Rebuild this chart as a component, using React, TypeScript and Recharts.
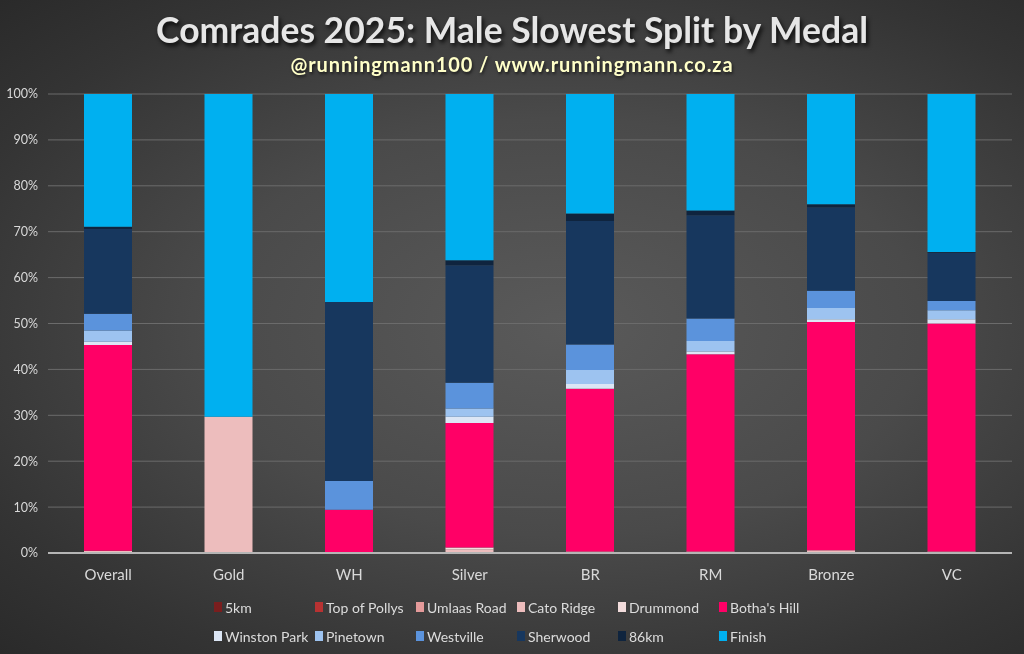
import { BarChart, Bar, XAxis, YAxis, CartesianGrid } from "recharts";

const categories = ["Overall", "Gold", "WH", "Silver", "BR", "RM", "Bronze", "VC"];

const splitNames = [
  "5km",
  "Top of Pollys",
  "Umlaas Road",
  "Cato Ridge",
  "Drummond",
  "Botha's Hill",
  "Winston Park",
  "Pinetown",
  "Westville",
  "Sherwood",
  "86km",
  "Finish",
];

const splitColors = [
  "#7a1e1e",
  "#b83232",
  "#e49a9a",
  "#edbdbd",
  "#f2dcdc",
  "#ff0066",
  "#dce6f5",
  "#9dc3f0",
  "#5b93dc",
  "#17375e",
  "#0f243e",
  "#00b0f0",
];

// share of runners (%) whose slowest split was each segment
const km5 = [0, 0, 0, 0, 0, 0, 0, 0];
const topOfPollys = [0, 0, 0, 0, 0, 0, 0, 0];
const umlaasRoad = [0, 0, 0, 0, 0, 0, 0, 0];
const catoRidge = [0.5, 29.7, 0, 0.8, 0.3, 0.3, 0.6, 0.3];
const drummond = [0, 0, 0, 0.4, 0, 0, 0, 0];
const bothasHill = [44.8, 0, 9.4, 27.1, 35.5, 43.0, 49.7, 49.7];
const winstonPark = [0.7, 0, 0, 1.4, 1.0, 0.6, 0.65, 0.9];
const pinetown = [2.5, 0, 0, 1.8, 3.05, 2.3, 2.4, 2.0];
const westville = [3.6, 0, 6.3, 5.6, 5.6, 4.9, 3.8, 2.0];
const sherwood = [18.5, 0, 39.0, 25.6, 26.9, 22.5, 18.2, 10.5];
const km86 = [0.5, 0, 0, 1.1, 1.6, 1.0, 0.65, 0.2];
const finish = [28.9, 70.3, 45.3, 36.2, 26.05, 25.4, 24.0, 34.4];

const splitValues = [
  km5,
  topOfPollys,
  umlaasRoad,
  catoRidge,
  drummond,
  bothasHill,
  winstonPark,
  pinetown,
  westville,
  sherwood,
  km86,
  finish,
];

const yTicks = [0, 0.1, 0.2, 0.3, 0.4, 0.5, 0.6, 0.7, 0.8, 0.9, 1];

const data = categories.map((name, i) => {
  const row: Record<string, string | number> = { name };
  splitNames.forEach((s, j) => {
    row[s] = splitValues[j][i];
  });
  return row;
});

const FONT = "Lato, 'Open Sans', sans-serif";

function SplitLegend() {
  return (
    <div
      style={{
        position: "absolute",
        top: 597,
        left: 214,
        display: "grid",
        gridTemplateColumns: "repeat(6, 101px)",
        rowGap: 9,
        fontFamily: FONT,
        fontSize: 14,
        color: "#dcdcdc",
      }}
    >
      {splitNames.map((s, i) => (
        <div key={s} style={{ display: "flex", alignItems: "center", height: 20, whiteSpace: "nowrap" }}>
          <span
            style={{
              width: 8,
              height: 10,
              background: splitColors[i],
              marginRight: 3,
              display: "inline-block",
            }}
          />
          <span>{s}</span>
        </div>
      ))}
    </div>
  );
}

export default function App() {
  return (
    <div
      style={{
        position: "fixed",
        left: 0,
        top: 0,
        width: 1024,
        height: 654,
        overflow: "hidden",
        background:
          "radial-gradient(ellipse at 55% 50%, #5a5a5a 0%, #4a4a4a 45%, #343434 80%, #2a2a2a 100%)",
      }}
    >
      <div
        style={{
          position: "absolute",
          top: 8,
          width: "100%",
          textAlign: "center",
          fontFamily: FONT,
          fontWeight: 700,
          fontSize: 35.5,
          color: "#e6e6e6",
          textShadow: "2px 3px 4px rgba(0,0,0,0.8)",
        }}
      >
        Comrades 2025: Male Slowest Split by Medal
      </div>
      <div
        style={{
          position: "absolute",
          top: 52,
          width: "100%",
          textAlign: "center",
          fontFamily: FONT,
          fontWeight: 700,
          fontSize: 20,
          color: "#ffffc8",
          letterSpacing: 0.9,
          textShadow: "1px 2px 3px rgba(0,0,0,0.6)",
        }}
      >
        @runningmann100 / www.runningmann.co.za
      </div>

      <div style={{ position: "absolute", left: 0, top: 0 }}>
        <BarChart
          width={1024}
          height={654}
          data={data}
          stackOffset="expand"
          margin={{ top: 94, right: 12, bottom: 71, left: 0 }}
          barSize={48}
        >
          <CartesianGrid vertical={false} stroke="#6b6b6b" strokeWidth={1} />
          <XAxis
            dataKey="name"
            height={30}
            tickLine={false}
            axisLine={{ stroke: "#b5b5b5", strokeWidth: 2 }}
            tickMargin={10}
            tick={{ fill: "#d9d9d9", fontSize: 15, fontFamily: FONT }}
          />
          <YAxis
            width={48}
            ticks={yTicks}
            domain={[0, 1]}
            tickFormatter={(v: number) => `${Math.round(v * 100)}%`}
            tickLine={false}
            axisLine={false}
            tickMargin={4}
            tick={{ fill: "#d9d9d9", fontSize: 12.5, fontFamily: FONT }}
          />
          {splitNames.map((s, i) => (
            <Bar
              key={s}
              dataKey={s}
              stackId="a"
              fill={splitColors[i]}
              isAnimationActive={false}
            />
          ))}
        </BarChart>
      </div>

      <SplitLegend />
    </div>
  );
}
